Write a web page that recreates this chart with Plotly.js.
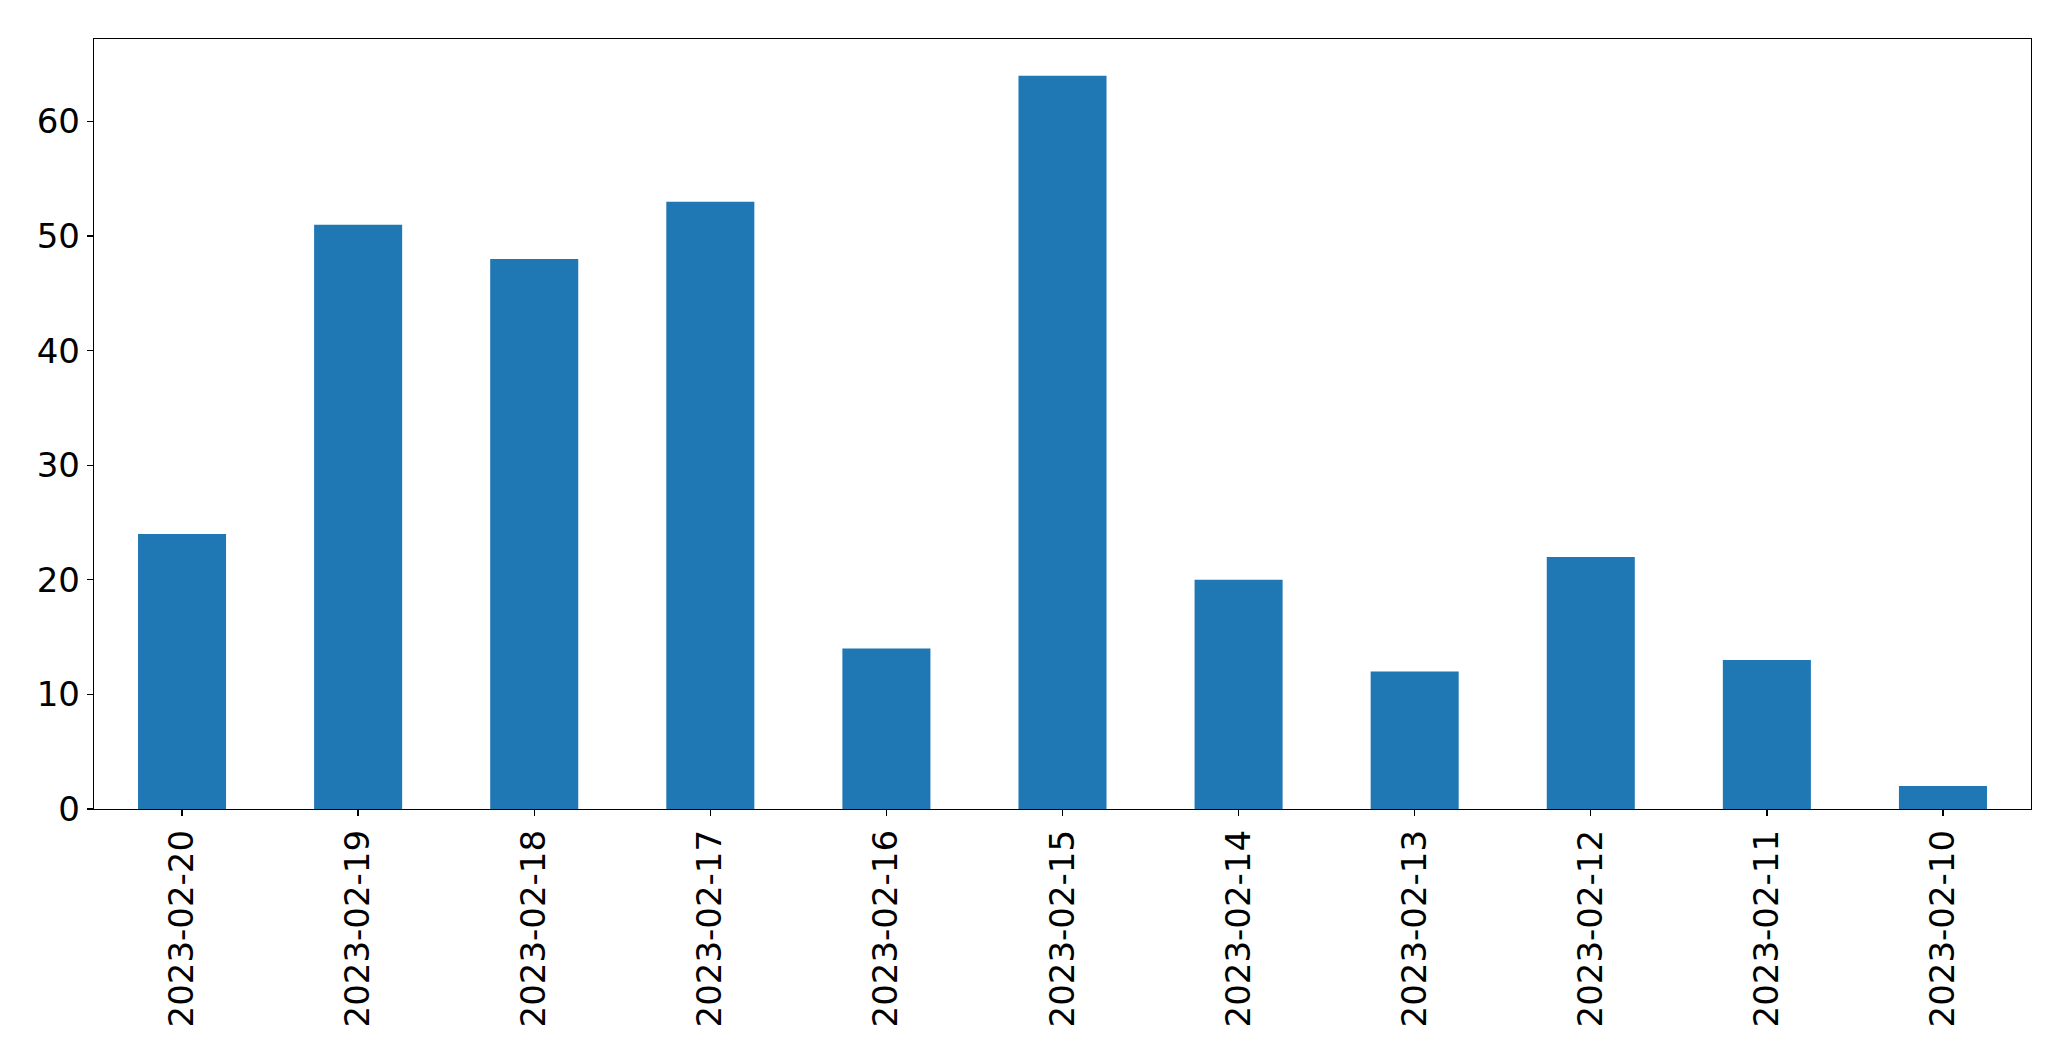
<!DOCTYPE html>
<html>
<head>
<meta charset="utf-8">
<script src="https://cdn.plot.ly/plotly-3.0.1.min.js"></script>
<style>html,body{margin:0;padding:0;background:#fff;}#chart{width:2071px;height:1061px;}</style>
</head>
<body>
<div id="chart"></div>
<script>
const dates = ["2023-02-20","2023-02-19","2023-02-18","2023-02-17","2023-02-16","2023-02-15","2023-02-14","2023-02-13","2023-02-12","2023-02-11","2023-02-10"];
const counts = [24, 51, 48, 53, 14, 64, 20, 12, 22, 13, 2];
const yTicks = [0, 10, 20, 30, 40, 50, 60];

const trace = {
  type: 'bar',
  x: dates,
  y: counts,
  marker: {color: '#1f77b4', line: {width: 0}},
  hoverinfo: 'x+y'
};

const layout = {
  width: 2071,
  height: 1061,
  paper_bgcolor: '#ffffff',
  plot_bgcolor: '#ffffff',
  margin: {l: 94, r: 40, t: 39, b: 252},
  bargap: 0.5,
  showlegend: false,
  font: {family: 'DejaVu Sans, sans-serif', size: 34, color: '#000000'},
  xaxis: {
    type: 'category',
    range: [-0.5, 10.5],
    tickangle: -90,
    ticks: 'outside',
    ticklen: 6,
    tickwidth: 1.3,
    tickcolor: '#000',
    showline: true,
    linecolor: '#000',
    linewidth: 1.3,
    mirror: true,
    showgrid: false,
    zeroline: false,
    tickfont: {family: 'DejaVu Sans, sans-serif', size: 34, color: '#000'}
  },
  yaxis: {
    range: [0, 67.2],
    tickmode: 'array',
    tickvals: yTicks,
    ticktext: yTicks.map(String),
    ticks: 'outside',
    ticklen: 6,
    tickwidth: 1.3,
    tickcolor: '#000',
    showline: true,
    linecolor: '#000',
    linewidth: 1.3,
    mirror: true,
    showgrid: false,
    zeroline: false,
    tickfont: {family: 'DejaVu Sans, sans-serif', size: 34, color: '#000'}
  }
};

Plotly.newPlot('chart', [trace], layout, {displayModeBar: false, staticPlot: true});
</script>
</body>
</html>
